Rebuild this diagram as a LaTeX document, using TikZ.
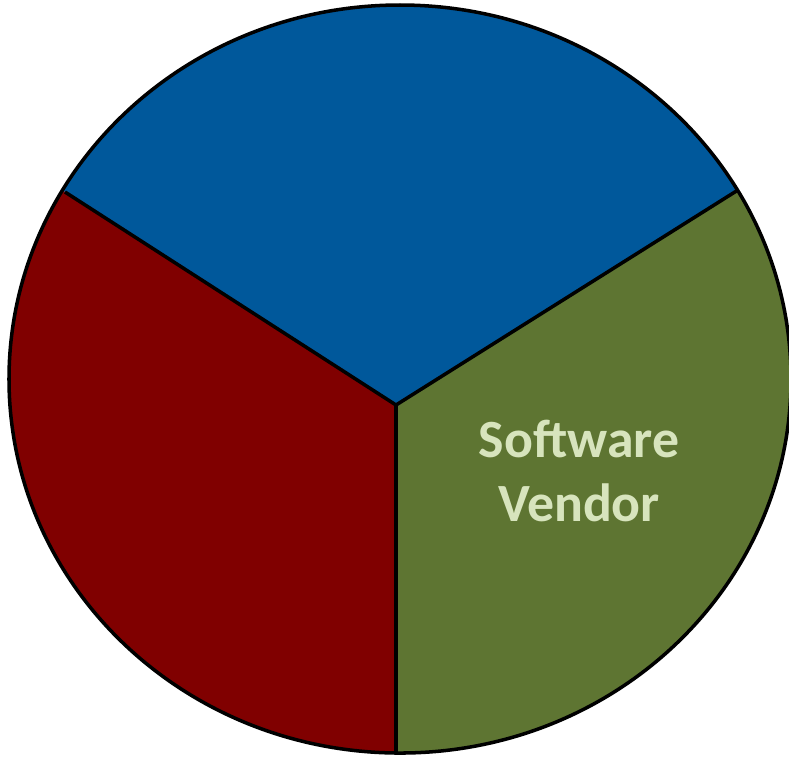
\documentclass[tikz,border=0pt]{standalone}
\usepackage{fontspec}
\setmainfont{Carlito}
\usetikzlibrary{positioning, calc}
\definecolor{sectorblue}{RGB}{0,88,155}
\definecolor{sectorred}{RGB}{128,0,0}
\definecolor{sectorgreen}{RGB}{94,117,50}
\definecolor{labelgreen}{RGB}{215,228,189}
\tikzset{
  rim/.style={draw=black, line width=1pt},
  divider/.style={draw=black, line width=1pt},
  sectorlabel/.style={font=\fontsize{15.3}{18}\selectfont\bfseries, text=labelgreen, align=center}
}

\begin{document}
\begin{tikzpicture}[x=0.01cm, y=0.01cm]
\useasboundingbox (0, 0) rectangle (789, 756);
% hub of the three sectors sits a little below the centre of the ellipse
\coordinate (hub) at (396, 351);
\coordinate (ul) at (65, 564);
\coordinate (ur) at (738, 566);
\coordinate (bot) at (396, 4);
% colour the sectors inside the ellipse
\begin{scope}
\clip (400, 377) ellipse [x radius=391, y radius=374];
\fill[sectorblue] (hub) -- (-266, 777) -- (-266, 900) -- (1080, 900) -- (1080, 781) -- cycle;
\fill[sectorred] (hub) -- (-266, 777) -- (-266, -400) -- (396, -400) -- cycle;
\fill[sectorgreen] (hub) -- (396, -400) -- (1080, -400) -- (1080, 781) -- cycle;
\end{scope}
\draw[divider] (hub) -- (ul);
\draw[divider] (hub) -- (ur);
\draw[divider] (hub) -- (bot);
\draw[rim] (400, 377) ellipse [x radius=391, y radius=374];
\node[sectorlabel] (vendor) at (579, 285) {Software\\Vendor};
\end{tikzpicture}
\end{document}
